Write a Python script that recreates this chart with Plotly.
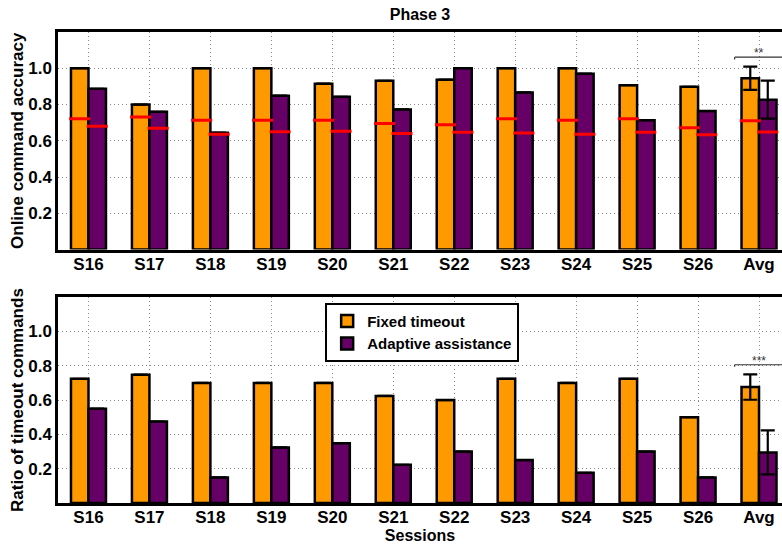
import plotly.graph_objects as go
from plotly.subplots import make_subplots

sessions = ["S16", "S17", "S18", "S19", "S20", "S21", "S22", "S23", "S24", "S25", "S26", "Avg"]

acc_fixed = [1.0, 0.80, 1.0, 1.0, 0.915, 0.931, 0.937, 1.0, 1.0, 0.907, 0.898, 0.945]
acc_adaptive = [0.887, 0.76, 0.645, 0.849, 0.843, 0.773, 1.0, 0.867, 0.970, 0.714, 0.764, 0.827]
chance_fixed = [0.722, 0.731, 0.714, 0.714, 0.714, 0.695, 0.689, 0.722, 0.714, 0.722, 0.672, 0.711]
chance_adaptive = [0.680, 0.669, 0.636, 0.650, 0.652, 0.640, 0.647, 0.643, 0.636, 0.647, 0.634, 0.648]
acc_err_fixed = [None] * 11 + [0.064]
acc_err_adaptive = [None] * 11 + [0.105]

timeout_fixed = [0.724, 0.748, 0.70, 0.70, 0.70, 0.624, 0.60, 0.724, 0.70, 0.724, 0.50, 0.676]
timeout_adaptive = [0.55, 0.475, 0.149, 0.324, 0.349, 0.223, 0.30, 0.25, 0.176, 0.30, 0.149, 0.295]
timeout_err_fixed = [None] * 11 + [0.074]
timeout_err_adaptive = [None] * 11 + [0.128]

yticks = [0.2, 0.4, 0.6, 0.8, 1.0]

ORANGE = "#FF9900"
PURPLE = "#660066"
FONT = "Liberation Sans"
BARGAP = 0.426
half = (1 - BARGAP) / 4  # centre offset of each bar within group

xs = list(range(len(sessions)))

fig = make_subplots(rows=2, cols=1)

def add_bars(row, fixed, adaptive, err_f, err_a, show_legend):
    fig.add_trace(go.Bar(
        x=xs, y=fixed, name="Fixed timeout", marker=dict(color=ORANGE, line=dict(color="black", width=2.5)),
        error_y=dict(type="data", array=err_f, color="black", thickness=2.2, width=7, visible=True),
        showlegend=show_legend, legendgroup="f"), row=row, col=1)
    fig.add_trace(go.Bar(
        x=xs, y=adaptive, name="Adaptive assistance", marker=dict(color=PURPLE, line=dict(color="black", width=2.5)),
        error_y=dict(type="data", array=err_a, color="black", thickness=2.2, width=7, visible=True),
        showlegend=show_legend, legendgroup="a"), row=row, col=1)

add_bars(1, acc_fixed, acc_adaptive, acc_err_fixed, acc_err_adaptive, False)
add_bars(2, timeout_fixed, timeout_adaptive, timeout_err_fixed, timeout_err_adaptive, True)

# red chance-level markers in the top panel
for vals, sign in ((chance_fixed, -1), (chance_adaptive, 1)):
    fig.add_trace(go.Scatter(
        x=[i + sign * half for i in xs], y=vals, mode="markers",
        marker=dict(symbol="line-ew", size=15, line=dict(color="#FF0000", width=3)),
        showlegend=False, hoverinfo="skip"), row=1, col=1)

axis_common = dict(showline=True, linecolor="black", linewidth=2.5,
                   tickfont=dict(family=FONT, size=17, color="black", weight="bold"))
GRID = dict(showgrid=True, gridcolor="#8a8a8a", griddash="1px,3px", gridwidth=1)

for r in (1, 2):
    fig.update_xaxes(row=r, col=1, range=[-0.5, 11.377], tickmode="array", tickvals=xs, ticktext=sessions,
                     mirror=True, ticks="", zeroline=False, ticklabelstandoff=-3, **GRID, **axis_common)
    fig.update_yaxes(row=r, col=1, range=[0, 1.2], tickmode="array", tickvals=yticks,
                     ticktext=[f"{v:.1f}" for v in yticks],
                     mirror=False, ticks="", zeroline=False, **GRID, **axis_common)

title_font = dict(family=FONT, size=17, color="black", weight="bold")
fig.update_yaxes(row=1, col=1, title=dict(text="Online command accuracy", font=title_font, standoff=1))
fig.update_yaxes(row=2, col=1, title=dict(text="Ratio of timeout commands", font=title_font, standoff=1))
fig.update_xaxes(row=2, col=1, title=dict(text="Sessions", font=dict(family=FONT, size=16, color="black",
                                                                      weight="bold"), standoff=4))

fig.update_layout(
    xaxis=dict(domain=[0, 1]), xaxis2=dict(domain=[0, 1]),
    yaxis=dict(domain=[0.538, 1.0]), yaxis2=dict(domain=[0.0, 0.437]),
)

# significance brackets
for yref, xref, ylev, stars in (("y", "x", 1.061, "**"), ("y2", "x2", 0.806, "***")):
    fig.add_shape(type="line", xref=xref, yref=yref, x0=10.6, x1=11.377, y0=ylev, y1=ylev,
                  line=dict(color="#333333", width=1.2))
    fig.add_shape(type="line", xref=xref, yref=yref, x0=10.6, x1=10.6, y0=ylev, y1=ylev - 0.012,
                  line=dict(color="#333333", width=1.2))
    fig.add_annotation(xref=xref, yref=yref, x=11, y=ylev, text=stars, showarrow=False,
                       yanchor="bottom", yshift=-5, font=dict(family=FONT, size=12, color="#333333"))

fig.update_layout(
    width=782, height=544,
    margin=dict(l=58, r=0, t=32, b=41),
    barmode="group", bargap=BARGAP, bargroupgap=0,
    plot_bgcolor="white", paper_bgcolor="white",
    title=dict(text="Phase 3", x=0.5, xref="paper", y=1 - 14 / 544, yanchor="middle",
               font=dict(family=FONT, size=16, color="black", weight="bold")),
    legend=dict(x=0.369, y=0.425, xanchor="left", yanchor="top", bgcolor="white",
                bordercolor="black", borderwidth=2,
                font=dict(family=FONT, size=15, color="black", weight="bold"),
                tracegroupgap=0, itemwidth=30),
    showlegend=True,
)

fig.write_html("out.html", config={"displayModeBar": False},
               post_script="document.body.style.margin='0';document.body.style.overflow='hidden';")
